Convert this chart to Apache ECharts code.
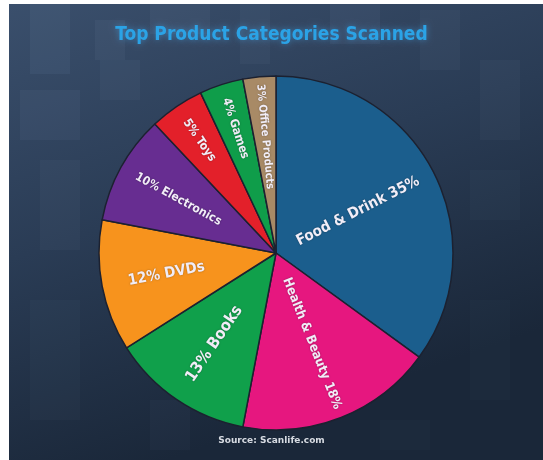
<!DOCTYPE html>
<html>
<head>
<meta charset="utf-8">
<script src="https://cdn.jsdelivr.net/npm/echarts@6/dist/echarts.min.js"></script>
<style>
  html, body { margin: 0; padding: 0; background: #ffffff; }
  #chart { width: 543px; height: 460px; }
</style>
</head>
<body>
<div id="chart"></div>
<script>
// Share of scans by product category (percent), clockwise from 12 o'clock
const categories = ['Food & Drink', 'Health & Beauty', 'Books', 'DVDs', 'Electronics', 'Toys', 'Games', 'Office Products'];
const shares = [35, 18, 13, 12, 10, 5, 4, 3];
// How the percentage sits relative to the name in each label
const percentFirst = [false, false, true, true, true, true, true, true];

// Styling per slice
const sliceColors = ['#1b5e8d', '#e6177f', '#10a04b', '#f7931d', '#672d91', '#e3202a', '#0f9d4a', '#a88a66'];
const labelSizes = [15, 13, 16, 15, 12, 12, 12, 11];
const labelReach = [0.52, 0.55, 0.62, 0.63, 0.63, 0.77, 0.74, 0.66]; // fraction of radius

const CX = 276, CY = 253, R = 177;
const FONT = '"DejaVu Sans Condensed", "DejaVu Sans", sans-serif';

// Mid angle of every slice, in degrees clockwise from 12 o'clock
const total = shares.reduce((a, b) => a + b, 0);
const midAngles = [];
shares.reduce((acc, v) => { midAngles.push((acc + v / 2) / total * 360); return acc + v; }, 0);

const pieData = categories.map((name, i) => ({
  name: name,
  value: shares[i],
  itemStyle: { color: sliceColors[i] },
  label: { fontSize: labelSizes[i] }
}));

// Background blocks (decorative tiling behind the pie)
const blocks = [
  [30, 4, 40, 70, 0.06], [95, 20, 30, 40, 0.05], [150, 4, 60, 30, 0.05], [240, 4, 30, 60, 0.04],
  [330, 4, 50, 40, 0.05], [420, 10, 40, 60, 0.04], [480, 60, 40, 80, 0.04], [20, 90, 60, 50, 0.05],
  [40, 160, 40, 90, 0.04], [470, 170, 50, 50, 0.03], [30, 300, 50, 120, 0.03], [150, 400, 40, 50, 0.03],
  [470, 300, 40, 100, 0.02], [380, 420, 50, 30, 0.02], [100, 60, 40, 40, 0.04]
];

const graphics = [
  {
    type: 'rect', z: -10, silent: true,
    shape: { x: 9, y: 4, width: 534, height: 456 },
    style: {
      fill: {
        type: 'linear', x: 0, y: 0, x2: 0.3, y2: 1,
        colorStops: [
          { offset: 0, color: '#3a4f6c' },
          { offset: 0.5, color: '#2a3c55' },
          { offset: 1, color: '#1a2739' }
        ]
      }
    }
  }
].concat(blocks.map(b => ({
  type: 'rect', z: -9, silent: true,
  shape: { x: b[0], y: b[1], width: b[2], height: b[3] },
  style: { fill: 'rgba(170,200,235,' + b[4] + ')' }
})));

graphics.push({
  type: 'text', left: 'center', top: 436, silent: true,
  style: {
    text: 'Source: Scanlife.com',
    fill: '#d7dbe2',
    font: 'bold 9px "DejaVu Sans", sans-serif'
  }
});

const chart = echarts.init(document.getElementById('chart'), null, { renderer: 'canvas' });

chart.setOption({
  backgroundColor: '#ffffff',
  animation: false,
  title: {
    text: 'Top Product Categories Scanned',
    left: 'center',
    top: 21,
    textStyle: {
      color: '#2ba3e6',
      fontFamily: FONT,
      fontWeight: 'bold',
      fontSize: 19,
      textShadowColor: 'rgba(70,170,240,0.55)',
      textShadowBlur: 6
    }
  },
  graphic: graphics,
  series: [{
    type: 'pie',
    center: [CX, CY],
    radius: [0, R],
    startAngle: 90,
    clockwise: true,
    silent: true,
    itemStyle: { borderColor: '#1c2130', borderWidth: 1.5 },
    label: {
      show: true,
      position: 'inside',
      rotate: 'radial',
      align: 'center',
      verticalAlign: 'middle',
      color: '#f1edf7',
      fontFamily: FONT,
      fontWeight: 'bold',
      textShadowColor: 'rgba(0,0,0,0.35)',
      textShadowBlur: 2,
      formatter: p => percentFirst[p.dataIndex] ? p.value + '% ' + p.name : p.name + ' ' + p.value + '%'
    },
    labelLine: { show: false },
    // place each label on its slice's bisector at a chosen fraction of the radius
    labelLayout: function (params) {
      const i = params.dataIndex;
      const a = midAngles[i] * Math.PI / 180;
      const d = labelReach[i] * R;
      return { x: CX + Math.sin(a) * d, y: CY - Math.cos(a) * d, align: 'center', verticalAlign: 'middle' };
    },
    data: pieData
  }]
});
</script>
</body>
</html>
